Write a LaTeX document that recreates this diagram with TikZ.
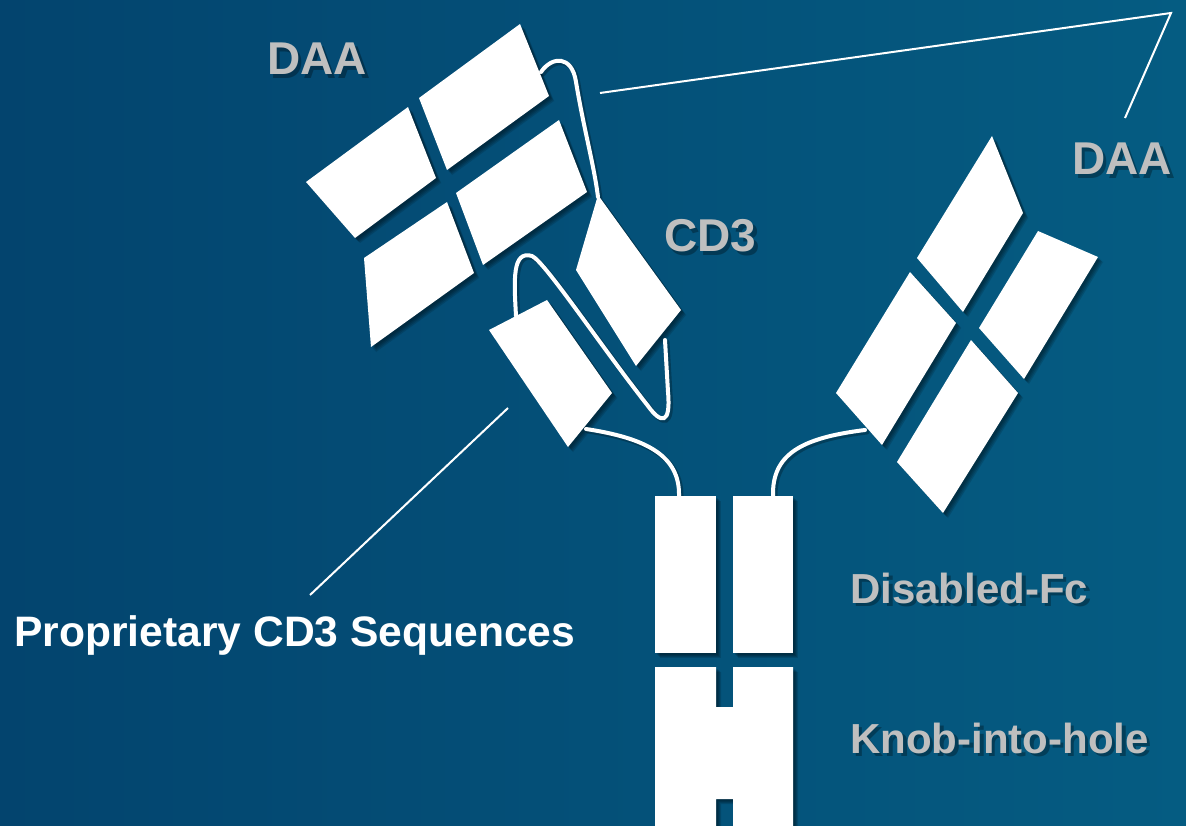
\documentclass[tikz,border=0pt]{standalone}
\usepackage{fontspec}
\setmainfont{Liberation Sans}

\definecolor{bgL}{RGB}{3,68,110}
\definecolor{bgM}{RGB}{5,84,124}
\definecolor{bgR}{RGB}{5,92,130}
\definecolor{labelgray}{RGB}{191,191,191}

% all white domains of the bispecific antibody
\newcommand\drawpieces[1]{%
  % DAA Fab (left)
  \path[#1] (520,24) -- (549,96) -- (447,170) -- (419,98) -- cycle;
  \path[#1] (408,107) -- (436,178) -- (355,238) -- (306,182) -- cycle;
  \path[#1] (559,120) -- (587,192) -- (483,265) -- (456,193) -- cycle;
  \path[#1] (447,202) -- (474,273) -- (371,347) -- (364,258) -- cycle;
  % CD3 binder
  \path[#1] (598,195) -- (681,310) -- (636,366) -- (576,270) -- cycle;
  \path[#1] (547,300) -- (612,393) -- (568,447) -- (489,330) -- cycle;
  % DAA Fab (right)
  \path[#1] (992,136) -- (1023,213) -- (963,312) -- (917,258) -- cycle;
  \path[#1] (1038,231) -- (1098,257) -- (1024,379) -- (979,328) -- cycle;
  \path[#1] (910,272) -- (956,323) -- (882,445) -- (836,393) -- cycle;
  \path[#1] (971,340) -- (1018,393) -- (943,513) -- (897,462) -- cycle;
  % Fc
  \path[#1] (655,496) rectangle (716,653);
  \path[#1] (733,496) rectangle (793,653);
  \path[#1] (655,667) -- (716,667) -- (716,707) -- (733,707) -- (733,667)
        -- (793,667) -- (793,840) -- (733,840) -- (733,799) -- (716,799)
        -- (716,840) -- (655,840) -- cycle;
}

% flexible linkers between domains
\newcommand\drawhinges[1]{%
  \path[#1] (h1a) .. controls (552,56) and (572,55) .. (576,82)
        .. controls (584,130) and (594,165) .. (h1b);
  \path[#1] (h2a) .. controls (514,280) and (512,250) .. (532,256)
        .. controls (545,262) and (600,345) .. (648,406)
        .. controls (661,424) and (671,425) .. (668,392) -- (h2b);
  \path[#1] (h3a) .. controls (645,438) and (680,455) .. (h3b);
  \path[#1] (h4a) .. controls (800,438) and (772,455) .. (h4b);
}

% grey labels (drawn once as shadow and once on top)
\newcommand\graylabels[2]{%
  \node[biglbl,#1] (daaL#2) at (267,75) {DAA};
  \node[biglbl,#1] (cd3#2) at (664,252) {CD3};
  \node[biglbl,#1] (daaR#2) at (1072,175) {DAA};
  \node[smalllbl,#1] (dfc#2) at (850,603) {Disabled-Fc};
  \node[smalllbl,#1] (kih#2) at (850,753) {Knob-into-hole};
}

\begin{document}
\begin{tikzpicture}[x=1pt,y=-1pt,
  piece/.style={fill=white},
  pieceshadow/.style={fill=black, fill opacity=0.13},
  hinge/.style={draw=white, line width=4pt, line cap=round},
  hingeshadow/.style={draw=black, draw opacity=0.25, line width=5pt, line cap=round},
  leader/.style={draw=white, line width=2pt, line join=miter},
  biglbl/.style={text=labelgray, font=\bfseries\fontsize{46}{50}\selectfont,
                 anchor=base west, inner sep=0pt},
  smalllbl/.style={text=labelgray, font=\bfseries\fontsize{42}{48}\selectfont,
                   anchor=base west, inner sep=0pt},
  lblshadow/.style={text=black, text opacity=0.3},
  whitelbl/.style={text=white, font=\bfseries\fontsize{42.6}{48}\selectfont,
                   anchor=base west, inner sep=0pt}]

\useasboundingbox (0,0) rectangle (1186,826);
\shade[left color=bgL, middle color=bgM, right color=bgR] (0,0) rectangle (1186,826);

% linker end points
\coordinate (h1a) at (541,72);   \coordinate (h1b) at (598,197);
\coordinate (h2a) at (516,316);  \coordinate (h2b) at (665,340);
\coordinate (h3a) at (586,429);  \coordinate (h3b) at (679,496);
\coordinate (h4a) at (865,430);  \coordinate (h4b) at (773,496);

% leader line end points
\coordinate (l1a) at (600,93);
\coordinate (l1b) at (1171,13);
\coordinate (l1c) at (1125,118);
\coordinate (l2a) at (508,408);
\coordinate (l2b) at (310,595);

% soft shadows
\foreach \d in {2,3,4,5} {
  \begin{scope}[transform canvas={shift={(\d pt,-\d pt)}}]
    \drawpieces{pieceshadow}
  \end{scope}
}
\begin{scope}[transform canvas={shift={(2pt,-2pt)}}]
  \drawhinges{hingeshadow}
\end{scope}

\drawhinges{hinge}
\drawpieces{piece}

% leader lines
\draw[leader] (l1a) -- (l1b) -- (l1c);
\draw[leader] (l2a) -- (l2b);

% labels
\begin{scope}[transform canvas={shift={(3.5pt,-3.5pt)}}]
  \graylabels{lblshadow}{s}
\end{scope}
\graylabels{}{}
\node[whitelbl] (prop) at (14,646) {Proprietary CD3 Sequences};

\end{tikzpicture}
\end{document}
